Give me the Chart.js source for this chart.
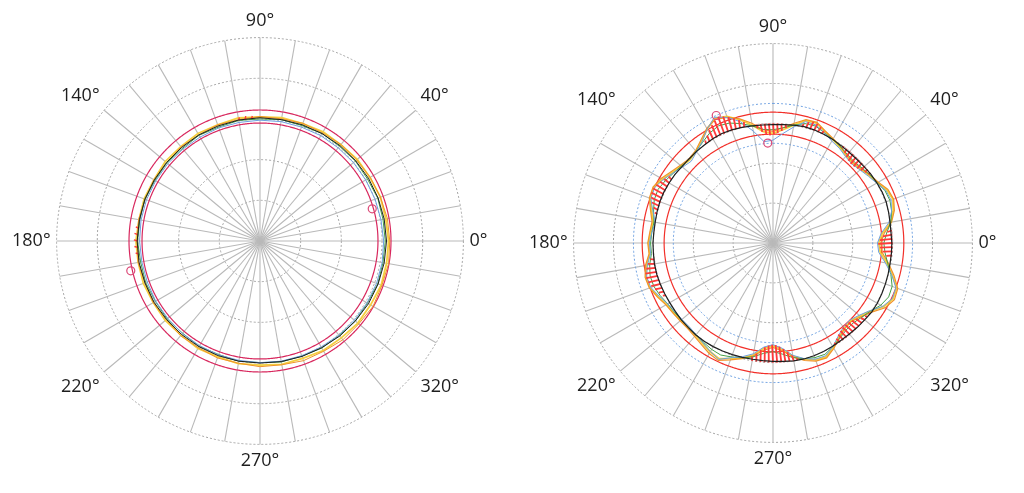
<!DOCTYPE html>
<html>
<head>
<meta charset="utf-8">
<title>Roundness polar plots</title>
<script src="https://cdn.jsdelivr.net/npm/chart.js@4.4.0/dist/chart.umd.min.js"></script>
<style>
  html, body { margin: 0; padding: 0; background: #fff; }
  #wrap { display: flex; width: 1024px; height: 493px; }
  canvas { display: block; }
</style>
</head>
<body>
<div id="wrap">
  <canvas id="leftPlot" width="512" height="493"></canvas>
  <canvas id="rightPlot" width="512" height="493"></canvas>
</div>
<script>
// rim labels (degrees, counter-clockwise from the right)
var rimLabels = [0, 40, 90, 140, 180, 220, 270, 320];
var spokeStep = 10;   // degrees between spokes
var ringMax = 5;      // five dotted rings

// ---- left plot, one sample every 10 degrees (0..350)
var leftStep = 10;
var leftBlack  = [3.11,3.10,3.09,3.08,3.07,3.06,3.05,3.04,3.03,3.03, 3.02,3.01,3.01,3.00,3.00,3.00,3.01,3.01,3.02,3.02, 3.01,3.01,3.00,3.00,3.00,3.00,3.00,3.00,3.01,3.02, 3.03,3.05,3.06,3.08,3.09,3.10];
var leftYellow = [3.16,3.14,3.15,3.12,3.12,3.09,3.10,3.07,3.08,3.05, 3.07,3.04,3.05,3.03,3.04,3.01,3.03,3.02,3.05,3.04, 3.05,3.03,3.04,3.02,3.05,3.03,3.06,3.05,3.08,3.07, 3.11,3.11,3.14,3.14,3.17,3.16];
var leftOrange = [3.19,3.18,3.15,3.13,3.10,3.10,3.07,3.08,3.05,3.06, 3.03,3.04,3.01,3.02,2.99,3.01,3.00,3.03,3.02,3.04, 3.01,3.03,3.01,3.04,3.03,3.06,3.05,3.09,3.09,3.13, 3.13,3.17,3.17,3.21,3.19,3.21];
var leftGreen  = [3.08,3.07,3.08,3.05,3.06,3.04,3.05,3.02,3.03,3.00, 3.01,2.98,3.00,2.97,2.99,2.98,3.01,3.00,3.01,2.98, 2.99,2.97,2.98,2.96,2.99,2.97,3.00,2.99,3.02,3.01, 3.04,3.03,3.06,3.05,3.08,3.07];
var leftBlue   = [3.04,3.02,3.01,3.00,3.00,2.99,2.99,2.98,2.98,2.97, 2.96,2.96,2.95,2.95,2.96,2.96,2.97,2.97,2.96,2.95, 2.95,2.96,2.96,2.97,2.97,2.98,2.98,2.99,3.00,3.00, 3.01,3.02,3.03,3.04,3.05,3.05];
var leftLimits = [2.90, 3.22];
var leftMarkAngles = [16, 193];
var leftMarkRadii  = [2.87, 3.26];
var leftHatchBase = 3.01;
var leftHatchAngles = [94,97,100, 174,177,180,183,186];
var leftHatchOuter  = [3.08,3.09,3.08, 3.07,3.09,3.10,3.09,3.07];

// ---- right plot, one sample every 5 degrees (0..355)
var rightStep = 5;
var rightBlack = [
  2.98,2.97,2.98,3.00,3.02,3.02,3.01,3.00,2.98,2.97,2.97,2.98,
  3.00,3.01,3.02,3.02,3.00,2.98,2.97,2.97,2.98,3.00,3.02,3.03,
  3.02,3.00,2.99,2.98,2.98,3.00,3.01,3.02,3.02,3.01,3.00,3.00,
  3.01,3.01,3.02,3.02,3.01,3.00,2.99,2.99,3.00,3.00,3.01,3.01,
  3.00,2.99,2.98,2.97,2.96,2.96,2.97,2.98,3.00,3.01,3.01,3.00,
  2.99,2.98,2.98,2.99,3.00,3.02,3.02,3.01,3.00,2.99,2.98,2.98];
var rightYellow = [
  2.65,2.75,3.00,3.12,3.20,3.15,3.02,2.95,2.88,2.82,2.85,2.93,
  3.00,3.08,3.20,3.18,3.00,2.85,2.75,2.80,3.00,3.20,3.38,3.45,
  3.30,3.12,3.00,2.95,3.00,3.08,3.20,3.30,3.28,3.15,3.05,3.08,
  3.12,3.10,3.22,3.30,3.28,3.18,3.08,3.05,3.02,3.00,3.02,3.08,
  3.15,3.20,3.08,2.98,2.85,2.65,2.58,2.68,2.88,3.02,3.12,3.15,
  3.02,2.88,2.78,2.76,2.85,2.98,3.20,3.32,3.30,3.10,2.90,2.70];
var rightOrange = [
  2.70,2.80,3.02,3.15,3.22,3.18,3.05,2.97,2.90,2.85,2.88,2.95,
  3.02,3.10,3.22,3.20,3.05,2.90,2.80,2.85,3.05,3.22,3.35,3.42,
  3.32,3.15,3.02,2.98,3.03,3.12,3.24,3.32,3.30,3.18,3.08,3.10,
  3.14,3.12,3.25,3.32,3.30,3.20,3.10,3.06,3.04,3.03,3.06,3.12,
  3.20,3.25,3.12,3.00,2.88,2.70,2.62,2.72,2.90,3.05,3.15,3.18,
  3.05,2.90,2.80,2.78,2.88,3.02,3.25,3.36,3.33,3.14,2.94,2.75];
var rightGreen = [
  2.78,2.86,3.00,3.08,3.12,3.10,3.02,2.97,2.92,2.88,2.90,2.95,
  3.00,3.05,3.12,3.10,3.00,2.90,2.84,2.86,2.98,3.10,3.20,3.24,
  3.18,3.08,3.00,2.97,3.00,3.05,3.12,3.18,3.17,3.10,3.03,3.05,
  3.07,3.06,3.14,3.19,3.18,3.12,3.05,3.02,3.00,2.99,3.00,3.04,
  3.08,3.10,3.04,2.98,2.90,2.78,2.72,2.80,2.92,3.00,3.06,3.08,
  3.00,2.92,2.85,2.84,2.90,2.98,3.12,3.20,3.18,3.06,2.92,2.82];
var rightBlue = [
  2.62,2.72,2.95,3.08,3.15,3.12,3.00,2.92,2.85,2.80,2.83,2.90,
  2.95,3.05,3.15,3.15,2.95,2.75,2.58,2.55,2.85,3.15,3.35,3.48,
  3.30,3.10,2.98,2.90,2.96,3.06,3.18,3.28,3.26,3.12,3.00,3.05,
  3.10,3.08,3.20,3.28,3.26,3.15,3.05,3.00,2.98,2.97,3.00,3.06,
  3.14,3.22,3.06,2.95,2.82,2.62,2.55,2.65,2.86,3.00,3.10,3.12,
  3.00,2.85,2.75,2.73,2.82,2.96,3.18,3.30,3.28,3.08,2.86,2.66];
var rightLimits = [2.73, 3.28];
var rightBands  = [2.50, 3.50];
var rightMarkAngles = [114, 93];
var rightMarkRadii  = [3.50, 2.51];
var rightHatchBase = 3.0;
var rightHatchAngles = [354,356,358,0,2,4,6, 36,38,40,42,44,46,48,50,52,54, 66,68,70,72,74,76,
  84,86,88,90,92,94,96,98, 104,106,108,110,112,114,116,118,120,122,124,
  148,150,152,154,156,158,160,162,164,166, 188,190,192,194,196,198,200,202,204,206,
  260,262,264,266,268,270,272,274,276,278,280,282, 302,304,306,308,310,312,314,316,318,320,322,324];
var rightHatchOuter = [2.86,2.76,2.68,2.64,2.68,2.76,2.88, 2.96,2.91,2.86,2.82,2.79,2.78,2.80,2.84,2.89,2.95, 3.08,3.14,3.19,3.20,3.16,3.08,
  2.90,2.82,2.76,2.72,2.70,2.72,2.80,2.90, 3.12,3.20,3.28,3.35,3.41,3.45,3.40,3.33,3.25,3.16,3.08,
  3.10,3.16,3.22,3.27,3.30,3.30,3.26,3.20,3.12,3.06, 3.10,3.18,3.24,3.29,3.30,3.28,3.24,3.18,3.12,3.06,
  2.90,2.80,2.70,2.62,2.57,2.55,2.56,2.60,2.67,2.76,2.86,2.95, 2.94,2.88,2.82,2.78,2.75,2.74,2.75,2.78,2.83,2.90,2.95,2.99];

// half-degree slots round the circle, clockwise from the top
var slots = 720;
var angleLabels = [];
for (var i = 0; i < slots; i++) angleLabels.push(((90 - i / 2) % 360 + 360) % 360);

function slot(angle) {
  var i = Math.round((90 - angle) * 2) % slots;
  return (i + slots) % slots;
}
function sampled(values, step) {
  var out = new Array(slots).fill(null);
  values.forEach(function(v, k) { out[slot(k * step)] = v; });
  return out;
}
function trace(data, color, width, dash) {
  return { data: data, borderColor: color, backgroundColor: color, borderWidth: width || 1,
    borderDash: dash || [], pointRadius: 0, fill: false, spanGaps: true };
}
function circle(r, color, width, dash) {
  return trace(new Array(slots).fill(r), color, width, dash);
}
function markers(angles, radii, color) {
  var out = new Array(slots).fill(null);
  angles.forEach(function(a, k) { out[slot(a)] = radii[k]; });
  return { data: out, showLine: false, fill: false, spanGaps: true, pointRadius: 4,
    pointStyle: 'circle', pointBorderColor: color, pointBorderWidth: 1.2,
    pointBackgroundColor: 'rgba(0,0,0,0)' };
}
// one short radial stroke per dataset: base radius at the angle, outer radius half a degree on
function hatches(angles, base, outer, color, width) {
  return angles.map(function(a, k) {
    var d = new Array(slots).fill(null);
    var i = slot(a);
    d[i] = base;
    d[(i + 1) % slots] = outer[k];
    return trace(d, color, width);
  });
}

function polarOptions(pad) {
  return {
    responsive: false,
    animation: false,
    layout: { padding: pad },
    plugins: { legend: { display: false }, tooltip: { enabled: false } },
    elements: { line: { tension: 0, fill: false }, point: { radius: 0, hitRadius: 0 } },
    scales: {
      r: {
        min: 0,
        max: ringMax,
        ticks: { display: false, stepSize: 1 },
        grid: { circular: true, color: '#a4a4a4', lineWidth: 1 },
        border: { dash: [2, 2] },
        angleLines: {
          color: '#b9b9b9',
          lineWidth: function(ctx) { return ctx.index % (spokeStep * 2) === 0 ? 1.1 : 0; }
        },
        pointLabels: {
          padding: 6,
          color: '#1e1e1e',
          font: { family: 'Open Sans', size: 18 },
          callback: function(label) { return rimLabels.indexOf(label) >= 0 ? label + '\u00b0' : ''; }
        }
      }
    }
  };
}

var crimson = '#d8285e';
var red = '#f2302a';
var hatchRed = '#ff3a3a';
var yellow = '#f4d03f', orange = '#f0932b', green = '#43a047', blue = '#6c9fe0', black = '#1e1e1e';

var leftSets = [
  markers(leftMarkAngles, leftMarkRadii, '#dc4a78'),
  trace(sampled(leftBlack, leftStep), black, 1)
].concat(
  hatches(leftHatchAngles, leftHatchBase, leftHatchOuter, hatchRed, 1.4),
  [trace(sampled(leftBlue, leftStep), blue, 1),
   trace(sampled(leftGreen, leftStep), green, 1),
   trace(sampled(leftOrange, leftStep), orange, 1),
   trace(sampled(leftYellow, leftStep), yellow, 1.8),
   circle(leftLimits[0], crimson, 1.2),
   circle(leftLimits[1], crimson, 1.2)]
);

var rightSets = [
  markers(rightMarkAngles, rightMarkRadii, '#dc4a78'),
  trace(sampled(rightBlack, rightStep), black, 1.2)
].concat(
  hatches(rightHatchAngles, rightHatchBase, rightHatchOuter, hatchRed, 1.8),
  [trace(sampled(rightBlue, rightStep), blue, 1),
   trace(sampled(rightGreen, rightStep), green, 1),
   trace(sampled(rightOrange, rightStep), orange, 1.2),
   trace(sampled(rightYellow, rightStep), yellow, 1.8),
   circle(rightLimits[0], red, 1.2),
   circle(rightLimits[1], red, 1.2),
   circle(rightBands[0], blue, 1, [2, 2]),
   circle(rightBands[1], blue, 1, [2, 2])]
);

new Chart(document.getElementById('leftPlot'), {
  type: 'radar',
  data: { labels: angleLabels, datasets: leftSets },
  options: polarOptions({ left: 0, right: 12, top: 11, bottom: 20 })
});

new Chart(document.getElementById('rightPlot'), {
  type: 'radar',
  data: { labels: angleLabels, datasets: rightSets },
  options: polarOptions({ left: 0, right: 8, top: 16, bottom: 22 })
});
</script>
</body>
</html>
